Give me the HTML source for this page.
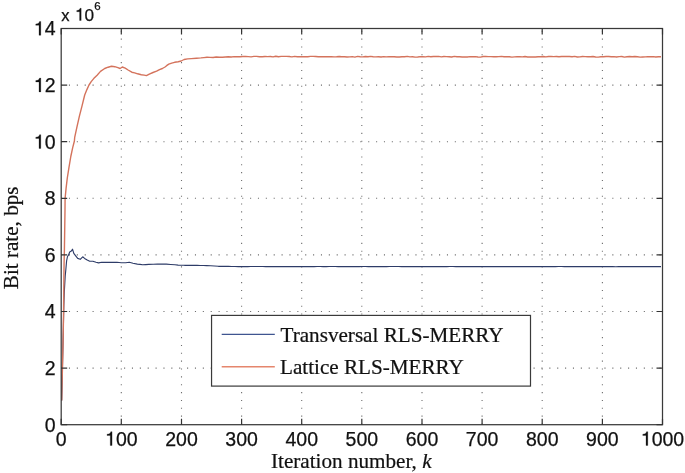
<!DOCTYPE html>
<html><head><meta charset="utf-8"><style>
html,body{margin:0;padding:0;background:#fff;width:685px;height:473px;overflow:hidden}
svg{display:block;filter:blur(0.35px)}
.s{font-family:"Liberation Sans",sans-serif}
.r{font-family:"Liberation Serif",serif}
</style></head><body>
<svg width="685" height="473" viewBox="0 0 685 473">
<rect width="685" height="473" fill="#fff"/>
<g stroke="#6e6e6e" stroke-width="1.1" stroke-dasharray="1.1 6.775" fill="none">
<line x1="61.05" y1="368.1" x2="662.5" y2="368.1"/>
<line x1="61.05" y1="311.5" x2="662.5" y2="311.5"/>
<line x1="61.05" y1="254.9" x2="662.5" y2="254.9"/>
<line x1="61.05" y1="198.3" x2="662.5" y2="198.3"/>
<line x1="61.05" y1="141.7" x2="662.5" y2="141.7"/>
<line x1="61.05" y1="85.1" x2="662.5" y2="85.1"/>
</g>
<g stroke="#6e6e6e" stroke-width="1.1" stroke-dasharray="1.1 6.755" fill="none">
<line x1="121.3" y1="424.55" x2="121.3" y2="28.5"/>
<line x1="181.5" y1="424.55" x2="181.5" y2="28.5"/>
<line x1="241.6" y1="424.55" x2="241.6" y2="28.5"/>
<line x1="301.7" y1="424.55" x2="301.7" y2="28.5"/>
<line x1="361.8" y1="424.55" x2="361.8" y2="28.5"/>
<line x1="422.0" y1="424.55" x2="422.0" y2="28.5"/>
<line x1="482.1" y1="424.55" x2="482.1" y2="28.5"/>
<line x1="542.2" y1="424.55" x2="542.2" y2="28.5"/>
<line x1="602.4" y1="424.55" x2="602.4" y2="28.5"/>
</g>
<polyline points="61.7,400.5 62.0,388.0 62.6,360.0 63.3,330.0 63.8,306.0 64.3,292.0 65.2,276.0 65.8,270.0 66.6,260.9 67.5,256.5 68.5,255.2 69.7,252.0 71.3,251.1 72.5,249.2 73.8,253.3 75.7,255.8 77.7,258.4 80.2,259.3 82.7,256.8 84.6,258.4 87.2,260.0 89.7,261.2 92.9,261.2 96.0,262.2 98.6,262.9 101.6,262.3 109.6,262.3 116.9,262.2 121.3,262.7 125.7,262.7 129.3,262.3 133.0,263.2 137.3,264.1 140.0,264.4 142.6,264.8 145.7,264.6 148.8,264.4 153.2,264.2 157.5,264.1 161.9,264.1 166.3,264.1 170.7,264.5 175.0,264.8 178.1,265.1 181.2,265.2 184.4,265.3 187.6,265.3 190.8,265.4 193.9,265.4 197.1,265.4 200.3,265.5 203.5,265.5 206.7,265.6 210.6,265.8 214.5,266.0 218.4,266.3 221.7,266.3 225.1,266.3 228.4,266.4 231.7,266.5 235.0,266.5 238.4,266.6 241.7,266.6 244.7,266.6 247.7,266.6 250.7,266.5 253.8,266.5 256.8,266.5 259.8,266.5 262.8,266.5 265.8,266.6 268.8,266.6 271.9,266.6 274.9,266.6 277.9,266.6 280.9,266.6 283.9,266.5 286.9,266.6 290.0,266.6 293.0,266.6 296.0,266.6 299.0,266.6 302.0,266.5 305.0,266.6 308.1,266.5 311.1,266.6 314.1,266.6 317.1,266.5 320.1,266.5 323.1,266.6 326.2,266.6 329.2,266.5 332.2,266.5 335.2,266.5 338.2,266.6 341.2,266.6 344.3,266.5 347.3,266.6 350.3,266.6 353.3,266.6 356.3,266.5 359.3,266.6 362.4,266.5 365.4,266.5 368.4,266.6 371.4,266.6 374.4,266.6 377.4,266.6 380.5,266.6 383.5,266.6 386.5,266.6 389.5,266.5 392.5,266.5 395.5,266.5 398.6,266.5 401.6,266.6 404.6,266.5 407.6,266.6 410.6,266.5 413.6,266.6 416.7,266.6 419.7,266.6 422.7,266.6 425.7,266.6 428.7,266.6 431.7,266.6 434.8,266.6 437.8,266.6 440.8,266.6 443.8,266.5 446.8,266.6 449.8,266.5 452.9,266.5 455.9,266.6 458.9,266.5 461.9,266.6 464.9,266.6 467.9,266.6 471.0,266.6 474.0,266.6 477.0,266.6 480.0,266.6 483.0,266.5 486.0,266.6 489.1,266.5 492.1,266.6 495.1,266.6 498.1,266.6 501.1,266.6 504.1,266.6 507.2,266.6 510.2,266.6 513.2,266.6 516.2,266.6 519.2,266.6 522.2,266.6 525.3,266.6 528.3,266.6 531.3,266.6 534.3,266.6 537.3,266.6 540.3,266.6 543.4,266.6 546.4,266.6 549.4,266.6 552.4,266.6 555.4,266.6 558.4,266.5 561.5,266.5 564.5,266.6 567.5,266.5 570.5,266.6 573.5,266.5 576.5,266.6 579.6,266.6 582.6,266.6 585.6,266.5 588.6,266.6 591.6,266.6 594.6,266.5 597.7,266.6 600.7,266.6 603.7,266.6 606.7,266.6 609.7,266.6 612.7,266.6 615.8,266.7 618.8,266.6 621.8,266.6 624.8,266.6 627.8,266.6 630.8,266.6 633.9,266.6 636.9,266.6 639.9,266.6 642.9,266.5 645.9,266.6 648.9,266.6 652.0,266.5 655.0,266.6 658.0,266.6 661.0,266.6" fill="none" stroke="#2e3c68" stroke-width="1.15" stroke-linejoin="round"/>
<polyline points="61.7,400.5 61.9,388.0 62.4,370.0 63.1,340.0 63.6,310.0 63.9,276.0 64.1,262.0 64.4,250.0 64.7,230.0 65.0,210.0 65.1,198.2 66.1,188.1 67.3,178.0 68.9,167.8 70.8,156.5 72.7,147.6 74.4,141.0 74.7,137.3 76.8,127.7 79.4,116.1 82.1,105.6 84.7,95.0 86.9,89.6 89.0,85.0 91.2,81.6 93.7,78.6 97.1,75.2 100.5,71.4 104.7,68.5 108.1,67.2 111.5,66.3 114.8,66.7 117.9,67.6 120.1,68.5 122.3,67.0 125.2,68.1 128.1,70.0 131.8,72.2 134.7,72.9 137.6,73.8 141.3,74.7 144.2,75.1 146.4,75.6 149.3,74.1 153.0,72.5 156.6,71.2 159.5,69.6 162.4,68.5 165.0,67.0 166.6,65.7 168.8,64.2 171.7,63.1 174.6,62.3 178.2,61.7 181.2,61.0 184.1,59.5 187.7,58.9 191.4,58.6 196.5,58.2 200.9,57.9 203.9,57.6 207.0,57.3 210.0,57.4 213.1,57.5 216.2,57.0 219.4,57.3 222.5,57.2 225.4,57.0 228.3,56.8 231.2,57.0 234.2,56.6 237.1,56.8 240.0,56.8 242.8,56.5 245.6,56.4 248.3,56.6 251.1,56.9 253.9,56.4 256.7,56.4 259.4,56.7 262.2,56.8 265.0,56.5 267.7,56.6 270.4,56.5 273.1,56.9 275.8,56.2 278.5,56.8 281.2,56.4 283.8,56.4 286.5,56.4 289.2,56.5 291.9,56.9 294.6,56.4 297.3,56.7 300.0,56.7 302.6,56.8 305.2,56.6 307.8,56.7 310.5,56.4 313.1,56.4 315.7,56.5 318.3,56.8 320.9,56.7 323.5,56.6 326.2,56.8 328.8,56.7 331.4,56.6 334.0,56.9 336.6,56.8 339.2,56.5 341.9,56.8 344.5,56.7 347.1,57.0 349.7,56.9 352.3,56.6 354.9,57.1 357.6,56.4 360.2,56.7 362.8,56.9 365.4,56.5 368.0,56.7 370.6,56.4 373.2,56.8 375.9,56.9 378.5,56.8 381.1,57.0 383.7,56.6 386.3,56.9 388.9,56.8 391.6,56.8 394.2,56.7 396.8,57.0 399.4,57.0 402.0,56.7 404.6,56.8 407.3,56.4 409.9,56.9 412.5,56.8 415.1,57.1 417.7,57.0 420.3,56.6 422.9,56.7 425.6,56.9 428.2,56.4 430.8,56.7 433.4,56.5 436.0,56.5 438.6,56.4 441.3,56.9 443.9,56.5 446.5,56.6 449.1,56.7 451.7,57.0 454.3,56.4 457.0,56.7 459.6,56.8 462.2,57.0 464.8,57.0 467.4,57.0 470.0,56.6 472.7,56.7 475.3,56.6 477.9,57.0 480.5,57.1 483.1,56.5 485.7,56.5 488.3,56.6 491.0,56.6 493.6,56.7 496.2,56.8 498.8,56.6 501.4,56.4 504.0,56.7 506.7,56.7 509.3,56.8 511.9,57.1 514.5,56.9 517.1,56.8 519.7,56.8 522.4,56.9 525.0,56.5 527.6,57.0 530.2,57.0 532.8,57.0 535.4,57.0 538.1,56.7 540.7,56.7 543.3,56.5 545.9,56.9 548.5,56.5 551.1,56.5 553.7,56.6 556.4,56.5 559.0,56.7 561.6,56.5 564.2,56.4 566.8,56.5 569.4,56.5 572.1,56.7 574.7,56.4 577.3,57.0 579.9,56.9 582.5,56.5 585.1,56.6 587.8,56.7 590.4,56.7 593.0,56.5 595.6,57.0 598.2,57.1 600.8,56.8 603.4,56.8 606.1,56.5 608.7,56.5 611.3,56.7 613.9,56.6 616.5,57.0 619.1,56.6 621.8,56.5 624.4,57.1 627.0,56.8 629.6,56.5 632.2,56.8 634.8,56.5 637.5,56.8 640.1,57.1 642.7,57.0 645.3,56.9 647.9,56.6 650.5,56.7 653.2,56.6 655.8,57.0 658.4,56.8 661.0,56.8" fill="none" stroke="#d4735c" stroke-width="1.4" stroke-linejoin="round"/>
<rect x="61.2" y="28.5" width="601.3" height="396.2" fill="none" stroke="#3a3a3a" stroke-width="1.25"/>
<path d="M61.2 424.7V418.7M61.2 28.5V34.5M121.3 424.7V418.7M121.3 28.5V34.5M181.5 424.7V418.7M181.5 28.5V34.5M241.6 424.7V418.7M241.6 28.5V34.5M301.7 424.7V418.7M301.7 28.5V34.5M361.8 424.7V418.7M361.8 28.5V34.5M422.0 424.7V418.7M422.0 28.5V34.5M482.1 424.7V418.7M482.1 28.5V34.5M542.2 424.7V418.7M542.2 28.5V34.5M602.4 424.7V418.7M602.4 28.5V34.5M662.5 424.7V418.7M662.5 28.5V34.5M61.2 424.7H67.2M662.5 424.7H656.5M61.2 368.1H67.2M662.5 368.1H656.5M61.2 311.5H67.2M662.5 311.5H656.5M61.2 254.9H67.2M662.5 254.9H656.5M61.2 198.3H67.2M662.5 198.3H656.5M61.2 141.7H67.2M662.5 141.7H656.5M61.2 85.1H67.2M662.5 85.1H656.5M61.2 28.5H67.2M662.5 28.5H656.5" stroke="#333" stroke-width="1.2" fill="none"/>
<g class="s" font-size="19.5" fill="#111" stroke="#111" stroke-width="0.25">
<text x="55.78" y="445.50">0</text>
<path vector-effect="non-scaling-stroke" transform="translate(105.06 445.50) scale(0.01950 -0.01950)" d="M267 0H359V709H292C278 640 230 590 101 580V511H267Z"/><text x="115.91" y="445.50">00</text>
<text x="165.19" y="445.50">200</text>
<text x="225.32" y="445.50">300</text>
<text x="285.45" y="445.50">400</text>
<text x="345.58" y="445.50">500</text>
<text x="405.71" y="445.50">600</text>
<text x="465.84" y="445.50">700</text>
<text x="525.97" y="445.50">800</text>
<text x="586.10" y="445.50">900</text>
<path vector-effect="non-scaling-stroke" transform="translate(640.81 445.50) scale(0.01950 -0.01950)" d="M267 0H359V709H292C278 640 230 590 101 580V511H267Z"/><text x="651.66" y="445.50">000</text>
<text x="44.66" y="431.50">0</text>
<text x="44.66" y="374.90">2</text>
<text x="44.66" y="318.30">4</text>
<text x="44.66" y="261.70">6</text>
<text x="44.66" y="205.10">8</text>
<path vector-effect="non-scaling-stroke" transform="translate(33.81 148.50) scale(0.01950 -0.01950)" d="M267 0H359V709H292C278 640 230 590 101 580V511H267Z"/><text x="44.66" y="148.50">0</text>
<path vector-effect="non-scaling-stroke" transform="translate(33.81 91.90) scale(0.01950 -0.01950)" d="M267 0H359V709H292C278 640 230 590 101 580V511H267Z"/><text x="44.66" y="91.90">2</text>
<path vector-effect="non-scaling-stroke" transform="translate(33.81 35.30) scale(0.01950 -0.01950)" d="M267 0H359V709H292C278 640 230 590 101 580V511H267Z"/><text x="44.66" y="35.30">4</text>
<text x="61.2" y="20.5" font-size="16.5">x</text><path vector-effect="non-scaling-stroke" transform="translate(75.00 20.50) scale(0.01720 -0.01720)" d="M267 0H359V709H292C278 640 230 590 101 580V511H267Z"/><text x="84.57" y="20.50" font-size="17.2">0</text><text x="94.3" y="10.2" font-size="11.5">6</text>
</g>
<rect x="211.55" y="315.4" width="318.95" height="70.7" fill="#fff" stroke="#3a3a3a" stroke-width="1.2"/>
<line x1="221.7" y1="334.3" x2="274.8" y2="334.3" stroke="#3f5590" stroke-width="1.2"/>
<line x1="221.7" y1="366.8" x2="274.8" y2="366.8" stroke="#e5866d" stroke-width="1.5"/>
<g class="r" font-size="21.15" fill="#111" stroke="#111" stroke-width="0.22">
<text x="280.5" y="341.7">Transversal RLS-MERRY</text>
<text x="280" y="374.4">Lattice RLS-MERRY</text>
<text x="271" y="468.2">Iteration number, <tspan font-style="italic">k</tspan></text>
<text transform="translate(18,289.2) rotate(-90)">Bit rate, bps</text>
</g>
</svg>
</body></html>
